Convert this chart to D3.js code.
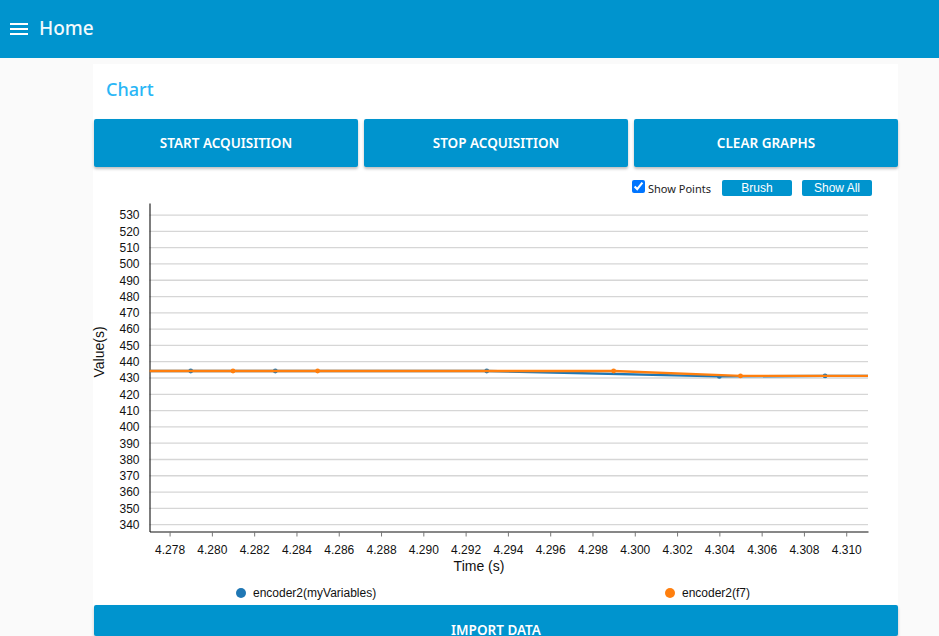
<!DOCTYPE html>
<html><head><meta charset="utf-8">
<script src="https://cdnjs.cloudflare.com/ajax/libs/d3/7.8.5/d3.min.js"></script>
<style>
html,body{margin:0;padding:0;width:939px;height:636px;overflow:hidden;background:#fafafa;font-family:"Noto Sans",sans-serif}
.abs{position:absolute;box-sizing:border-box}
.hdr{left:0;top:0;width:939px;height:58px;background:#0094ce}
.bar{left:10px;width:18px;height:2px;background:#fff}
.home{left:39px;top:14px;color:#fff;font-size:19px;line-height:28px;font-weight:500;opacity:.95}
.card{left:93px;top:64px;width:805px;height:572px;background:#fff}
.title{left:106px;top:76px;color:#29b6f6;font-size:18px;line-height:26px;font-weight:500}
.btn{background:#0094ce;color:#fff;border-radius:2px;text-align:center;font-weight:600;font-size:13.5px;box-shadow:0 2px 3px rgba(0,0,0,.25)}
.mini{background:#0094ce;color:#fff;border-radius:2px;text-align:center;font:12px/16px "Liberation Sans",Arial,sans-serif;height:16px;top:180px;width:70px}
.cb{left:632px;top:180px;width:13px;height:13px;margin:0;accent-color:#0075ff}
.sp{left:648px;top:180px;font-size:11px;line-height:17px;color:#222}
svg{position:absolute;left:0;top:0}
</style></head><body>
<div class="abs hdr"></div>
<div class="abs bar" style="top:23px"></div><div class="abs bar" style="top:28px"></div><div class="abs bar" style="top:33px"></div>
<div class="abs home">Home</div>
<div class="abs card"></div>
<div class="abs title">Chart</div>
<div class="abs btn" style="left:94px;top:119px;width:264px;height:48px;line-height:48px">START ACQUISITION</div>
<div class="abs btn" style="left:364px;top:119px;width:264px;height:48px;line-height:48px">STOP ACQUISITION</div>
<div class="abs btn" style="left:634px;top:119px;width:264px;height:48px;line-height:48px">CLEAR GRAPHS</div>
<input class="abs cb" type="checkbox" checked>
<div class="abs sp">Show Points</div>
<div class="abs mini" style="left:722px">Brush</div>
<div class="abs mini" style="left:802px">Show All</div>
<svg id="c" width="939" height="636"></svg>
<div class="abs btn" style="left:94px;top:605px;width:804px;height:31px;padding-top:19px;line-height:12px">IMPORT DATA</div>
<script>
const xDomain = [4.27705, 4.31103];
const yDomain = [335.8, 537.4];
const xTicks = [4.278,4.280,4.282,4.284,4.286,4.288,4.290,4.292,4.294,4.296,4.298,4.300,4.302,4.304,4.306,4.308,4.310];
const yTicks = [340,350,360,370,380,390,400,410,420,430,440,450,460,470,480,490,500,510,520,530];
const blueTimes = [4.275,4.279,4.283,4.293,4.304,4.309,4.314];
const blueValues = [434.3,434.3,434.3,434.3,431,431.3,431.3];
const orangeTimes = [4.273,4.281,4.285,4.299,4.305,4.315];
const orangeValues = [434.3,434.3,434.3,434.3,431.3,431.3];
const blueName = "encoder2(myVariables)";
const orangeName = "encoder2(f7)";
const blue = "#1f77b4", orange = "#ff7f0e";

const L=149.5,R=868,T=203,B=531.5;
const x=d3.scaleLinear().domain(xDomain).range([L,R]);
const y=d3.scaleLinear().domain(yDomain).range([B,T]);
const svg=d3.select("#c");
const font='"Liberation Sans",Arial,sans-serif';

svg.append("defs").append("clipPath").attr("id","clip").append("rect")
  .attr("x",L).attr("y",T).attr("width",R-L).attr("height",B-T);

svg.append("g").selectAll("line").data(yTicks).join("line")
  .attr("x1",L).attr("x2",R).attr("y1",d=>y(d)).attr("y2",d=>y(d))
  .attr("stroke","#d6d6d6").attr("stroke-width",1.3);

const gx=svg.append("g").attr("transform",`translate(0,${B})`)
  .call(d3.axisBottom(x).tickValues(xTicks).tickFormat(d3.format(".3f")).tickSizeInner(5).tickSizeOuter(0).tickPadding(9));
gx.select(".domain").attr("stroke","#111").attr("stroke-width",1.1);
gx.selectAll(".tick line").attr("stroke","#777");
gx.selectAll("text").attr("font-family",font).attr("font-size",12).attr("fill","#111");

const gy=svg.append("g").attr("transform",`translate(${L},0)`)
  .call(d3.axisLeft(y).tickValues(yTicks).tickFormat(d3.format("d")).tickSize(0).tickPadding(10));
gy.select(".domain").attr("stroke","#111").attr("stroke-width",1.1);
gy.selectAll("text").attr("font-family",font).attr("font-size",12).attr("fill","#111");

svg.append("text").attr("x",479).attr("y",571).attr("text-anchor","middle")
  .attr("font-family",font).attr("font-size",14).attr("fill","#111").text("Time (s)");
svg.append("text").attr("transform","translate(104,352) rotate(-90)").attr("text-anchor","middle")
  .attr("font-family",font).attr("font-size",14).attr("fill","#111").text("Value(s)");

const plot=svg.append("g").attr("clip-path","url(#clip)");
const line=d3.line().x(d=>x(d[0])).y(d=>y(d[1]));
function draw(ts,vs,col){
  const pts=ts.map((t,i)=>[t,vs[i]]);
  plot.append("path").datum(pts).attr("d",line).attr("fill","none").attr("stroke",col).attr("stroke-width",2.4);
  plot.append("g").selectAll("circle").data(pts).join("circle")
    .attr("cx",d=>x(d[0])).attr("cy",d=>y(d[1])).attr("r",2.4).attr("fill",col);
}
draw(blueTimes,blueValues,blue);
draw(orangeTimes,orangeValues,orange);

const lg=[[241,blue,blueName],[670,orange,orangeName]];
const g=svg.append("g").selectAll("g").data(lg).join("g");
g.append("circle").attr("cx",d=>d[0]).attr("cy",593).attr("r",5).attr("fill",d=>d[1]);
g.append("text").attr("x",d=>d[0]+12).attr("y",597).attr("font-family",font).attr("font-size",12).attr("fill","#111").text(d=>d[2]);
</script>
</body></html>
